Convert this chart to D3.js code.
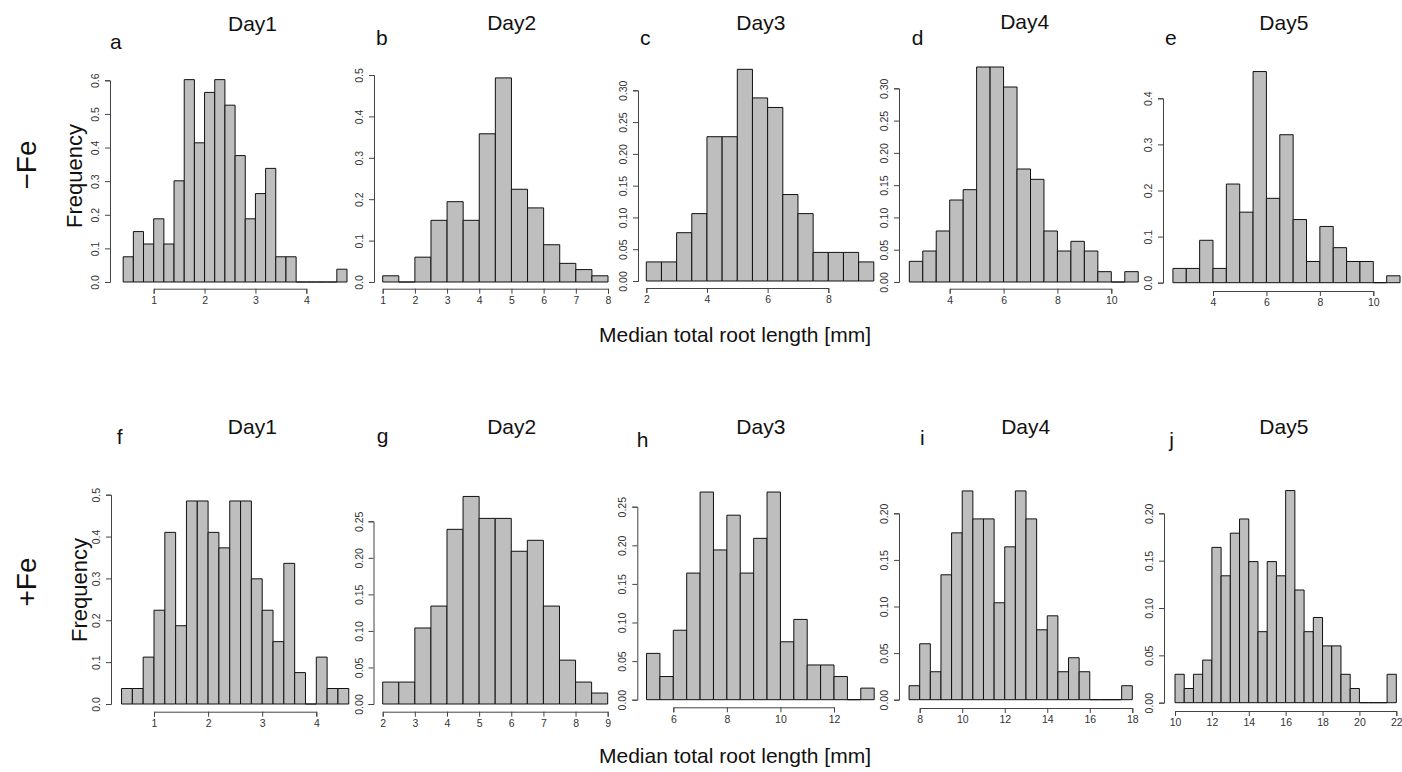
<!DOCTYPE html>
<html>
<head>
<meta charset="utf-8">
<script src="https://cdn.jsdelivr.net/npm/d3@7"></script>
<style>
body { margin: 0; background: #fff; }
text { font-family: "Liberation Sans", Arial, sans-serif; }
</style>
</head>
<body>
<script>
// ---- data ----
var dayLabels = ["Day1", "Day2", "Day3", "Day4", "Day5"];
var rowLabels = ["\u2212Fe", "+Fe"];
var panelLetters = ["a", "b", "c", "d", "e", "f", "g", "h", "i", "j"];
var xTitle = "Median total root length [mm]";
var yTitle = "Frequency";

// first break and bin width of each histogram
var binStarts = [0.4, 1.0, 2.0, 2.5, 2.5, 0.4, 2.0, 5.0, 7.5, 10.0];
var binWidths = [0.2, 0.5, 0.5, 0.5, 0.5, 0.2, 0.5, 0.5, 0.5, 0.5];

// densities per bin, -Fe
var densA = [0.075, 0.150, 0.113, 0.188, 0.113, 0.301, 0.602, 0.414, 0.564, 0.602, 0.526, 0.376, 0.188, 0.263, 0.338, 0.075, 0.075, 0, 0, 0, 0, 0.038];
var densB = [0.015, 0, 0.060, 0.149, 0.194, 0.149, 0.358, 0.493, 0.224, 0.179, 0.090, 0.045, 0.030, 0.015];
var densC = [0.030, 0.030, 0.076, 0.106, 0.227, 0.227, 0.333, 0.288, 0.273, 0.136, 0.106, 0.045, 0.045, 0.045, 0.030];
var densD = [0.032, 0.048, 0.079, 0.127, 0.143, 0.333, 0.333, 0.302, 0.175, 0.159, 0.079, 0.048, 0.063, 0.048, 0.016, 0, 0.016];
var densE = [0.031, 0.031, 0.092, 0.031, 0.214, 0.153, 0.458, 0.183, 0.321, 0.137, 0.046, 0.122, 0.076, 0.046, 0.046, 0, 0.015];
// densities per bin, +Fe
var densF = [0.037, 0.037, 0.112, 0.224, 0.410, 0.187, 0.485, 0.485, 0.410, 0.373, 0.485, 0.485, 0.299, 0.224, 0.149, 0.336, 0.075, 0, 0.112, 0.037, 0.037];
var densG = [0.030, 0.030, 0.104, 0.134, 0.239, 0.284, 0.254, 0.254, 0.209, 0.224, 0.134, 0.060, 0.030, 0.015];
var densH = [0.060, 0.030, 0.090, 0.164, 0.269, 0.194, 0.239, 0.164, 0.209, 0.269, 0.075, 0.104, 0.045, 0.045, 0.030, 0, 0.015];
var densI = [0.015, 0.060, 0.030, 0.134, 0.179, 0.224, 0.194, 0.194, 0.104, 0.164, 0.224, 0.194, 0.075, 0.090, 0.030, 0.045, 0.030, 0, 0, 0, 0.015];
var densJ = [0.030, 0.015, 0.030, 0.045, 0.164, 0.134, 0.179, 0.194, 0.149, 0.075, 0.149, 0.134, 0.224, 0.119, 0.075, 0.090, 0.060, 0.060, 0.030, 0.015, 0, 0, 0, 0.030];
var densities = [densA, densB, densC, densD, densE, densF, densG, densH, densI, densJ];

// axis ticks
var xTicks = [
  [1, 2, 3, 4], [1, 2, 3, 4, 5, 6, 7, 8], [2, 4, 6, 8], [4, 6, 8, 10], [4, 6, 8, 10],
  [1, 2, 3, 4], [2, 3, 4, 5, 6, 7, 8, 9], [6, 8, 10, 12], [8, 10, 12, 14, 16, 18], [10, 12, 14, 16, 18, 20, 22]
];
var yTicks = [
  [0, 0.1, 0.2, 0.3, 0.4, 0.5, 0.6], [0, 0.1, 0.2, 0.3, 0.4, 0.5],
  [0, 0.05, 0.10, 0.15, 0.20, 0.25, 0.30], [0, 0.05, 0.10, 0.15, 0.20, 0.25, 0.30],
  [0, 0.1, 0.2, 0.3, 0.4], [0, 0.1, 0.2, 0.3, 0.4, 0.5],
  [0, 0.05, 0.10, 0.15, 0.20, 0.25], [0, 0.05, 0.10, 0.15, 0.20, 0.25],
  [0, 0.05, 0.10, 0.15, 0.20], [0, 0.05, 0.10, 0.15, 0.20]
];
var yDecimals = [1, 1, 2, 2, 1, 1, 2, 2, 2, 2];

// ---- layout (pixel placement of each panel) ----
// px: pixels of first/last x tick, py: pixels of y=0 and top y tick
var layout = [
  {px: [153.7, 306.3], py: [282, 80.3], yAxisX: 110,    xAxisY: 288.7, title: [252.5, 30.5], letter: [110, 49]},
  {px: [382.7, 608.0], py: [282, 75.0], yAxisX: 374,    xAxisY: 288.7, title: [511.7, 30],   letter: [376, 44.5]},
  {px: [646.3, 828.3], py: [281, 90.3], yAxisX: 638,    xAxisY: 288,   title: [760.8, 29.5], letter: [640, 45]},
  {px: [949.7, 1111.3], py: [282, 88.3], yAxisX: 899,   xAxisY: 288.7, title: [1024.7, 28.5], letter: [911.7, 44.5]},
  {px: [1213, 1373.3], py: [282.7, 98.3], yAxisX: 1163, xAxisY: 291,   title: [1283.8, 30],  letter: [1165, 44.5]},
  {px: [154, 316.3], py: [704, 494.7], yAxisX: 111,     xAxisY: 711.7, title: [252.3, 433.5], letter: [116.7, 443.5]},
  {px: [382.7, 607.7], py: [704, 521.3], yAxisX: 373.5, xAxisY: 711.7, title: [511.7, 433.5], letter: [376.7, 443]},
  {px: [673.3, 834], py: [699.7, 506.7], yAxisX: 637.3, xAxisY: 707.3, title: [760.8, 433.5], letter: [636.7, 446.5]},
  {px: [919.7, 1132.3], py: [699.7, 513.3], yAxisX: 899, xAxisY: 708,  title: [1025.7, 433.5], letter: [920, 445]},
  {px: [1175, 1396.3], py: [702.7, 513.3], yAxisX: 1164, xAxisY: 711,  title: [1283.8, 433.5], letter: [1169.3, 446.5]}
];

var W = 1402, H = 772;
var svg = d3.select("body").append("svg")
  .attr("width", W)
  .attr("height", H)
  .style("background", "#fff");

densities.forEach(function(dens, i) {
  var L = layout[i];
  var xt = xTicks[i], yt = yTicks[i];
  var x = d3.scaleLinear().domain([xt[0], xt[xt.length - 1]]).range(L.px);
  var y = d3.scaleLinear().domain([0, yt[yt.length - 1]]).range(L.py);
  var g = svg.append("g").attr("class", "panel");

  // bars (zero bins are drawn as a flat line like R does)
  g.selectAll("path.bar")
    .data(dens)
    .enter().append("path")
    .attr("class", "bar")
    .attr("d", function(d, k) {
      var x0 = x(binStarts[i] + k * binWidths[i]);
      var x1 = x(binStarts[i] + (k + 1) * binWidths[i]);
      return "M" + x0 + "," + y(0) + "V" + y(d) + "H" + x1 + "V" + y(0) + "Z";
    })
    .attr("fill", "#bebebe")
    .attr("stroke", "#111")
    .attr("stroke-width", 1);

  // x axis
  var xa = g.append("g")
    .attr("transform", "translate(0," + L.xAxisY + ")")
    .call(d3.axisBottom(x).tickValues(xt).tickSizeOuter(0).tickSize(5).tickPadding(3).tickFormat(d3.format("d")));
  xa.selectAll("path, line").attr("stroke", "#444");
  xa.selectAll("text").attr("fill", "#333").style("font-size", "10.5px")
    .style("font-family", "'Liberation Sans', Arial, sans-serif");

  // y axis with labels parallel to the axis
  var ya = g.append("g")
    .attr("transform", "translate(" + L.yAxisX + ",0)")
    .call(d3.axisLeft(y).tickValues(yt).tickSizeOuter(0).tickSize(5).tickFormat(d3.format("." + yDecimals[i] + "f")));
  ya.selectAll("path, line").attr("stroke", "#444");
  ya.selectAll("text")
    .attr("transform", "rotate(-90)")
    .attr("text-anchor", "middle")
    .attr("x", 0)
    .attr("y", -11)
    .attr("dy", null)
    .attr("fill", "#333")
    .style("font-size", "10.5px")
    .style("font-family", "'Liberation Sans', Arial, sans-serif");

  // title and panel letter
  g.append("text")
    .attr("x", L.title[0]).attr("y", L.title[1])
    .attr("text-anchor", "middle")
    .style("font-size", "21px")
    .attr("fill", "#111")
    .text(dayLabels[i % 5]);
  g.append("text")
    .attr("x", L.letter[0]).attr("y", L.letter[1])
    .style("font-size", "21px")
    .attr("fill", "#111")
    .text(panelLetters[i]);
});

// row labels, y titles, x titles
var rowY = [165, 582];
var freqPos = [[81.5, 176], [87, 590]];
var xTitleY = [341.5, 763];
[0, 1].forEach(function(r) {
  svg.append("text")
    .attr("transform", "translate(36," + rowY[r] + ") rotate(-90)")
    .attr("text-anchor", "middle")
    .style("font-size", "28px")
    .attr("fill", "#111")
    .text(rowLabels[r]);
  svg.append("text")
    .attr("transform", "translate(" + freqPos[r][0] + "," + freqPos[r][1] + ") rotate(-90)")
    .attr("text-anchor", "middle")
    .style("font-size", "22px")
    .attr("fill", "#111")
    .text(yTitle);
  svg.append("text")
    .attr("x", 735).attr("y", xTitleY[r])
    .attr("text-anchor", "middle")
    .style("font-size", "21px")
    .attr("fill", "#111")
    .text(xTitle);
});
</script>
</body>
</html>
